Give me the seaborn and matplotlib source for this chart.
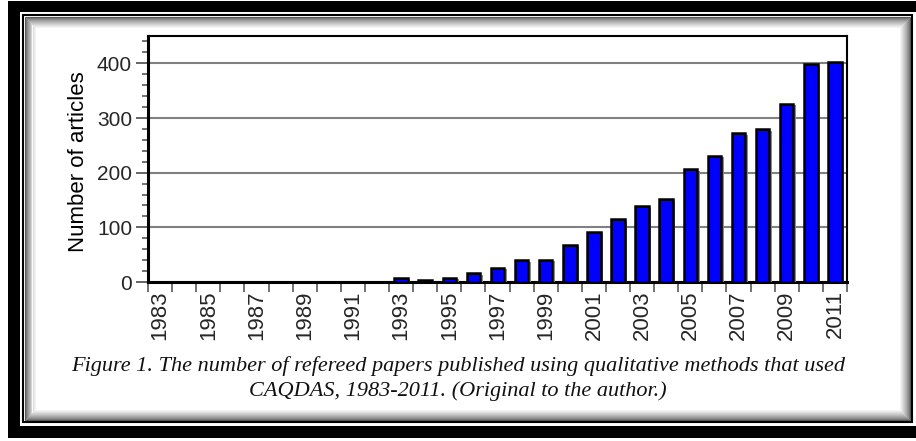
import numpy as np
import pandas as pd
import matplotlib
matplotlib.use('Agg')
import matplotlib.pyplot as plt
import seaborn as sns
from matplotlib.patches import Rectangle
from matplotlib import patheffects as pe
from matplotlib.ticker import MultipleLocator

years = ['1983', '1984', '1985', '1986', '1987', '1988', '1989', '1990',
         '1991', '1992', '1993', '1994', '1995', '1996', '1997', '1998',
         '1999', '2000', '2001', '2002', '2003', '2004', '2005', '2006',
         '2007', '2008', '2009', '2010', '2011']
articles = [0, 0, 0, 0, 0, 0, 0, 0, 0, 0,
            8, 4, 8, 16, 26, 40, 41, 68, 92, 115,
            139, 151, 207, 231, 272, 280, 326, 399, 402]
y_ticks = [0, 100, 200, 300, 400]
caption = ['Figure 1. The number of refereed papers published using qualitative methods that used',
           'CAQDAS, 1983-2011. (Original to the author.)']

sns.set_theme(style='white')
plt.rcParams['font.family'] = ['Liberation Sans', 'DejaVu Sans']

W, H = 916, 441
fig = plt.figure(figsize=(W / 100, H / 100), dpi=100)
fig.patch.set_facecolor('white')
ax = fig.add_axes([148 / W, 1 - 282 / H, (847 - 148) / W, (282 - 36) / H])

df = pd.DataFrame({'year': years, 'articles': articles})
sns.barplot(data=df, x='year', y='articles', color='#0000ff', saturation=1,
            width=0.56, edgecolor='black', linewidth=1.8, ax=ax, zorder=3)
for bar in ax.patches:
    bar.set_path_effects([pe.SimplePatchShadow(offset=(1.8, -1.2), shadow_rgbFace='0.5', alpha=0.9),
                          pe.Normal()])

ax.set_xlim(-0.5, len(years) - 0.5)
ax.set_ylim(0, 450)
ax.set_axisbelow(True)
ax.yaxis.grid(True, which='major', color='0.5', linewidth=1.5)
ax.xaxis.grid(False)

# labels every other year, tick marks at the slot edges
ax.set_xticks(range(0, len(years), 2))
ax.set_xticklabels(years[::2], rotation=90)
ax.set_xticks(np.arange(-0.5, len(years), 1), minor=True)
ax.tick_params(axis='x', which='major', length=0, pad=6, labelsize=16, bottom=True)
ax.tick_params(axis='x', which='minor', length=7, width=1.2, color='0.35', bottom=True)

ax.set_yticks(y_ticks)
ax.yaxis.set_minor_locator(MultipleLocator(20))
ax.tick_params(axis='y', which='major', length=8.5, width=1.3, color='0.35', pad=3,
               labelsize=15, left=True)
ax.tick_params(axis='y', which='minor', length=4.3, width=1.2, color='0.35', left=True)

for side in ['left', 'bottom']:
    ax.spines[side].set_linewidth(2.2)
for side in ['top', 'right']:
    ax.spines[side].set_linewidth(1.5)
for s in ax.spines.values():
    s.set_color('black')

ax.set_xlabel('')
ax.set_ylabel('Number of articles', fontsize=16, color='black')
ax.yaxis.set_label_coords(-0.084, 0.49)


def px_rect(x0, y0, x1, y1, **kw):
    return Rectangle((x0 / W, 1 - y1 / H), (x1 - x0) / W, (y1 - y0) / H,
                     transform=fig.transFigure, **kw)


# picture frame
for r in [(8, 1, 916, 12), (8, 1, 20, 438), (8, 426, 916, 438)]:
    fig.add_artist(px_rect(*r, facecolor='black', edgecolor='none'))
fig.add_artist(px_rect(22.5, 14.5, 911.5, 421.5, facecolor='none', edgecolor='black', linewidth=1.5))
for i in range(12):
    c = 0.35 + 0.65 * (i / 11) ** 0.7
    d = 2 + i
    fig.add_artist(px_rect(22.5 + d, 14.5 + d, 911.5 - d, 421.5 - d,
                           facecolor='none', edgecolor=str(c), linewidth=0.75))

fig.text(458 / W, 1 - 366 / H, caption[0], ha='center', va='center',
         family='Liberation Serif', style='italic', fontsize=16, color='#111111')
fig.text(458 / W, 1 - 391 / H, caption[1], ha='center', va='center',
         family='Liberation Serif', style='italic', fontsize=16, color='#111111')

fig.savefig('out.png', dpi=100)
